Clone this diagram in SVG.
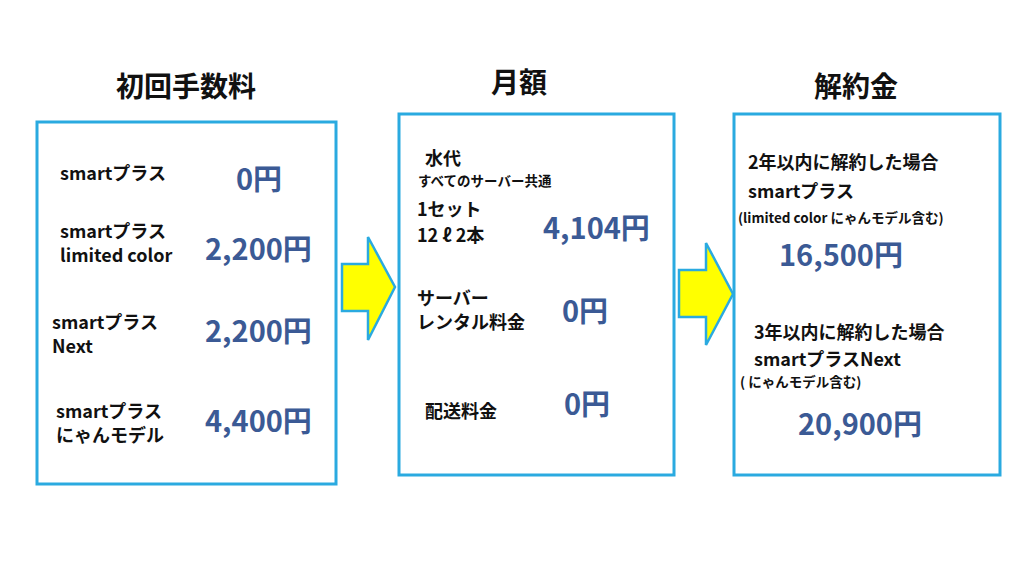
<svg xmlns="http://www.w3.org/2000/svg" width="1024" height="576" viewBox="0 0 1024 576">
<style>
text{font-family:"Noto Sans CJK JP","Liberation Sans",sans-serif;font-weight:bold;fill:#111}
.h{font-size:28px}
.l{font-size:18px}
.s{font-size:13.5px}
.p{font-size:29px;fill:#3B5A95}
.box{fill:#fff;stroke:#2AAAE0;stroke-width:3}
.arr{fill:#FFFF00;stroke:#2AAAE0;stroke-width:2.5}
</style>
<rect width="1024" height="576" fill="#fff"/>
<text class="h" x="186" y="97" text-anchor="middle">初回手数料</text>
<text class="h" x="519" y="93" text-anchor="middle">月額</text>
<text class="h" x="856" y="97" text-anchor="middle">解約金</text>
<g id="initial">
<rect class="box" x="37" y="122" width="299" height="362"/>
<text class="l" x="60" y="180">smartプラス</text>
<text class="p" x="236" y="190">0円</text>
<text class="l" x="60" y="238">smartプラス</text>
<text class="l" x="60" y="262">limited color</text>
<text class="p" x="205" y="260">2,200円</text>
<text class="l" x="52" y="329">smartプラス</text>
<text class="l" x="52" y="353">Next</text>
<text class="p" x="205" y="342">2,200円</text>
<text class="l" x="56" y="418">smartプラス</text>
<text class="l" x="56" y="442">にゃんモデル</text>
<text class="p" x="205" y="432">4,400円</text>
</g>
<g id="monthly">
<rect class="box" x="399" y="114" width="275" height="361"/>
<text class="l" x="425" y="165">水代</text>
<text class="s" x="418" y="186">すべてのサーバー共通</text>
<text class="l" x="417" y="216">1セット</text>
<text class="l" x="417" y="242">12 ℓ 2本</text>
<text class="p" x="543" y="239">4,104円</text>
<text class="l" x="417" y="305">サーバー</text>
<text class="l" x="417" y="329">レンタル料金</text>
<text class="p" x="562" y="322">0円</text>
<text class="l" x="425" y="418">配送料金</text>
<text class="p" x="564" y="415">0円</text>
</g>
<g id="cancel">
<rect class="box" x="734" y="114" width="266" height="361"/>
<text class="l" x="748" y="169">2年以内に解約した場合</text>
<text class="l" x="748" y="198">smartプラス</text>
<text class="s" x="738" y="223">(limited color にゃんモデル含む)</text>
<text class="p" x="779" y="266">16,500円</text>
<text class="l" x="754" y="339">3年以内に解約した場合</text>
<text class="l" x="754" y="366">smartプラスNext</text>
<text class="s" x="740" y="387">( にゃんモデル含む)</text>
<text class="p" x="798" y="435">20,900円</text>
</g>
<g id="connectors">
<polygon class="arr" points="342,264 368,264 368,237 395,287 368,340 368,311 342,311"/>
<polygon class="arr" points="679,270 706,270 706,243 733,294 706,345 706,317 679,317"/>
</g>
</svg>
